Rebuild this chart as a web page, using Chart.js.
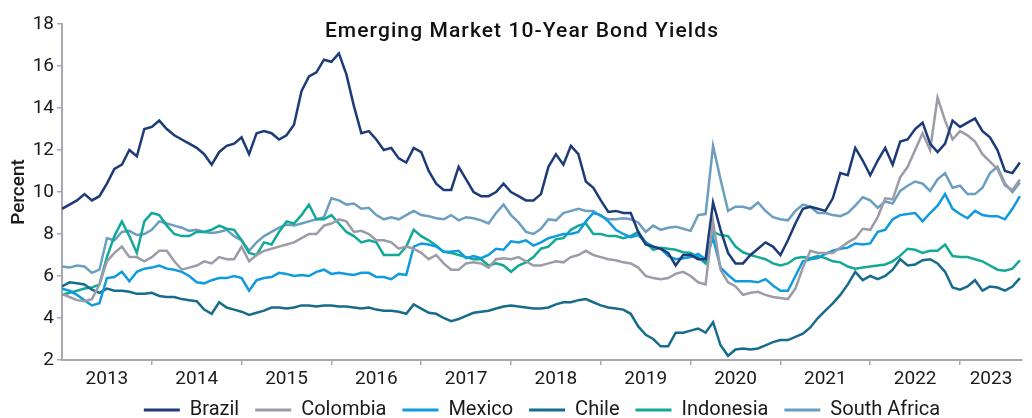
<!DOCTYPE html>
<html><head><meta charset="utf-8">
<script src="https://cdn.jsdelivr.net/npm/chart.js@4.4.0/dist/chart.umd.min.js"></script>
<style>html,body{margin:0;padding:0;background:#fff}#wrap{width:1032px;height:418px;position:relative}</style>
</head><body><div id="wrap"><canvas id="c" width="1032" height="418"></canvas></div>
<script>
const TITLE = 'Emerging Market 10-Year Bond Yields';
const Y_TITLE = 'Percent';
const seriesNames = ['Brazil','Colombia','Mexico','Chile','Indonesia','South Africa'];
const yearLabels = ['2013','2014','2015','2016','2017','2018','2019','2020','2021','2022','2023'];
const yTicks = [2,4,6,8,10,12,14,16,18];
// monthly observations, Jan 2013 .. Sep 2023
const months = [];
for (let y = 2013; y <= 2023; y++) for (let m = 1; m <= 12; m++) { if (y === 2023 && m > 9) break; months.push(y + '-' + String(m).padStart(2,'0')); }

const brazil = [9.2, 9.4, 9.6, 9.9, 9.6, 9.8, 10.4, 11.1, 11.3, 12.0, 11.7, 13.0,
13.1, 13.4, 13.0, 12.7, 12.5, 12.3, 12.1, 11.8, 11.3, 11.9, 12.2, 12.3,
12.6, 11.8, 12.8, 12.9, 12.8, 12.5, 12.7, 13.2, 14.8, 15.5, 15.7, 16.3,
16.2, 16.6, 15.6, 14.1, 12.8, 12.9, 12.5, 12.0, 12.1, 11.6, 11.4, 12.1,
11.9, 11.0, 10.4, 10.1, 10.1, 11.2, 10.6, 10.0, 9.8, 9.8, 10.0, 10.4,
10.0, 9.8, 9.6, 9.6, 9.9, 11.2, 11.8, 11.3, 12.2, 11.8, 10.5, 10.2,
9.6, 9.05, 9.1, 9.0, 9.0, 8.1, 7.5, 7.4, 7.3, 7.1, 6.5, 7.0,
7.0, 6.8, 6.8, 9.5, 8.2, 7.1, 6.6, 6.6, 7.0, 7.3, 7.6, 7.4,
7.0, 7.7, 8.5, 9.2, 9.3, 9.2, 9.1, 9.7, 10.9, 10.8, 12.1, 11.5,
10.8, 11.5, 12.1, 11.3, 12.4, 12.5, 13.0, 13.3, 12.3, 11.9, 12.3, 13.4,
13.1, 13.3, 13.5, 12.9, 12.6, 12.0, 11.0, 10.9, 11.4];
const colombia = [5.15, 5.0, 4.85, 4.8, 4.9, 5.6, 6.7, 7.1, 7.4, 6.9, 6.9, 6.7,
6.9, 7.2, 7.2, 6.7, 6.3, 6.4, 6.5, 6.7, 6.6, 6.9, 6.8, 6.8,
7.4, 6.7, 7.0, 7.2, 7.3, 7.4, 7.5, 7.6, 7.8, 8.0, 8.0, 8.4,
8.5, 8.7, 8.6, 8.1, 8.15, 8.0, 7.7, 7.7, 7.6, 7.3, 7.4, 7.3,
7.1, 6.8, 7.0, 6.6, 6.3, 6.3, 6.6, 6.65, 6.6, 6.4, 6.8, 6.85,
6.8, 6.9, 6.7, 6.5, 6.5, 6.6, 6.7, 6.65, 6.9, 7.0, 7.2, 7.0,
6.9, 6.8, 6.75, 6.65, 6.6, 6.4, 6.0, 5.9, 5.85, 5.9, 6.1, 6.2,
6.0, 5.7, 5.6, 8.6, 6.3, 5.7, 5.5, 5.1, 5.2, 5.25, 5.1, 5.0,
4.95, 4.9, 5.4, 6.4, 7.2, 7.1, 7.1, 7.1, 7.35, 7.6, 7.8, 8.25,
8.2, 8.8, 9.7, 9.65, 10.7, 11.2, 12.0, 12.8, 12.0, 14.5, 13.4, 12.5,
12.9, 12.7, 12.4, 11.8, 11.45, 11.1, 10.3, 10.1, 10.6];
const mexico = [5.4, 5.3, 5.1, 4.85, 4.6, 4.7, 5.9, 5.95, 6.2, 5.75, 6.2, 6.35,
6.4, 6.5, 6.35, 6.3, 6.2, 6.0, 5.7, 5.65, 5.8, 5.9, 5.9, 6.0,
5.9, 5.3, 5.8, 5.9, 5.95, 6.15, 6.1, 6.0, 6.05, 6.0, 6.2, 6.3,
6.1, 6.15, 6.1, 6.05, 6.15, 6.15, 5.95, 5.95, 5.85, 6.1, 6.05, 7.4,
7.55, 7.5, 7.4, 7.15, 7.15, 7.2, 6.85, 6.95, 6.85, 7.0, 7.3, 7.25,
7.65, 7.6, 7.7, 7.45, 7.6, 7.8, 7.9, 8.0, 8.0, 8.1, 8.6, 9.0,
8.9, 8.6, 8.2, 8.0, 7.85, 7.95, 7.6, 7.4, 7.3, 6.95, 6.8, 6.85,
6.9, 7.05, 6.8, 7.8, 6.4, 6.05, 5.75, 5.75, 5.75, 5.7, 5.85, 5.55,
5.3, 5.3, 6.0, 6.7, 6.8, 6.85, 7.05, 7.2, 7.3, 7.35, 7.55, 7.5,
7.55, 8.1, 8.2, 8.7, 8.9, 8.95, 9.0, 8.6, 9.0, 9.35, 9.9, 9.2,
8.95, 8.75, 9.1, 8.9, 8.85, 8.85, 8.7, 9.2, 9.8];
const chile = [5.5, 5.7, 5.65, 5.6, 5.35, 5.2, 5.4, 5.3, 5.3, 5.25, 5.15, 5.15,
5.2, 5.05, 5.0, 5.0, 4.9, 4.85, 4.8, 4.4, 4.2, 4.75, 4.5, 4.4,
4.3, 4.15, 4.25, 4.35, 4.5, 4.5, 4.45, 4.5, 4.6, 4.6, 4.55, 4.6,
4.6, 4.55, 4.55, 4.5, 4.45, 4.5, 4.4, 4.35, 4.35, 4.3, 4.2, 4.65,
4.45, 4.25, 4.2, 4.0, 3.85, 3.95, 4.1, 4.25, 4.3, 4.35, 4.45, 4.55,
4.6, 4.55, 4.5, 4.45, 4.45, 4.5, 4.65, 4.75, 4.75, 4.85, 4.9, 4.75,
4.6, 4.5, 4.45, 4.4, 4.2, 3.6, 3.2, 3.0, 2.65, 2.65, 3.3, 3.3,
3.4, 3.5, 3.3, 3.8, 2.7, 2.2, 2.5, 2.55, 2.5, 2.55, 2.7, 2.85,
2.95, 2.95, 3.1, 3.25, 3.55, 4.0, 4.35, 4.7, 5.1, 5.6, 6.2, 5.8,
6.0, 5.85, 6.0, 6.3, 6.8, 6.5, 6.55, 6.75, 6.8, 6.6, 6.2, 5.45,
5.35, 5.5, 5.8, 5.3, 5.5, 5.45, 5.3, 5.5, 5.9];
const indonesia = [5.1, 5.2, 5.3, 5.4, 5.45, 5.6, 6.9, 7.9, 8.6, 7.9, 7.1, 8.6,
9.0, 8.9, 8.4, 8.0, 7.9, 7.9, 8.1, 8.1, 8.2, 8.4, 8.25, 8.2,
7.7, 7.1, 7.0, 7.6, 7.5, 8.1, 8.6, 8.5, 8.9, 9.4, 8.7, 8.7,
8.9, 8.5, 8.1, 7.9, 7.6, 7.7, 7.6, 7.0, 7.0, 7.0, 7.4, 8.2,
7.9, 7.7, 7.45, 7.15, 7.1, 7.0, 6.9, 6.8, 6.8, 6.5, 6.6, 6.5,
6.2, 6.5, 6.65, 6.9, 7.3, 7.4, 7.75, 7.8, 8.2, 8.4, 8.5, 8.0,
8.0, 7.9, 7.9, 7.8, 7.9, 8.1, 7.6, 7.25, 7.35, 7.3, 7.25, 7.13,
7.1, 6.9, 6.6, 8.1, 7.95, 7.9, 7.4, 7.13, 7.0, 6.9, 6.8, 6.6,
6.5, 6.6, 6.85, 6.9, 6.85, 6.95, 6.85, 6.7, 6.65, 6.45, 6.35, 6.4,
6.45, 6.5, 6.55, 6.7, 6.97, 7.3, 7.25, 7.1, 7.2, 7.2, 7.5, 6.95,
6.9, 6.9, 6.8, 6.7, 6.5, 6.3, 6.25, 6.35, 6.75];
const southAfrica = [6.45, 6.4, 6.5, 6.45, 6.15, 6.3, 7.8, 7.7, 8.1, 8.15, 7.95, 8.0,
8.2, 8.6, 8.5, 8.4, 8.3, 8.15, 8.2, 8.1, 8.05, 8.1, 8.2, 7.9,
7.7, 7.2, 7.6, 7.9, 8.1, 8.3, 8.45, 8.4, 8.5, 8.6, 8.7, 8.8,
9.7, 9.6, 9.4, 9.45, 9.2, 9.25, 8.9, 8.7, 8.8, 8.7, 8.9, 9.1,
8.9, 8.85, 8.75, 8.7, 8.9, 8.65, 8.8, 8.75, 8.65, 8.5, 9.0, 9.4,
8.9, 8.55, 8.1, 8.0, 8.25, 8.7, 8.65, 9.0, 9.1, 9.2, 9.1, 9.1,
8.85, 8.7, 8.7, 8.75, 8.7, 8.55, 8.1, 8.4, 8.2, 8.3, 8.35, 8.25,
8.15, 8.9, 8.95, 12.2, 10.6, 9.1, 9.3, 9.3, 9.2, 9.5, 9.1, 8.8,
8.7, 8.65, 9.1, 9.4, 9.3, 9.0, 9.0, 8.9, 8.85, 9.0, 9.35, 9.75,
9.6, 9.25, 9.55, 9.45, 10.05, 10.3, 10.5, 10.4, 10.05, 10.6, 10.9, 10.2,
10.3, 9.9, 9.9, 10.2, 10.9, 11.2, 10.4, 10.0, 10.45];

const seriesValues = [brazil, colombia, mexico, chile, indonesia, southAfrica];
const seriesColors = ['#1d3b78','#9c9ca8','#0f9bde','#176c8c','#13a898','#6b9ebf'];
const X_MIN = 2013, X_MAX = 2023.69;
const AXIS = '#a8a8b0', TXT = '#1a1a1a';
const FONT = 'Roboto';

const monthToYear = s => { const [y, m] = s.split('-').map(Number); return y + (m - 1) / 12; };
const xs = months.map(monthToYear);

const datasets = seriesNames.map((name, i) => ({
  label: name,
  data: seriesValues[i].map((v, j) => ({ x: xs[j], y: v })),
  borderColor: seriesColors[i],
  backgroundColor: seriesColors[i],
  borderWidth: 2.5,
  pointRadius: 0,
  tension: 0,
  fill: false
}));

const titlePlugin = {
  id: 'overlayTitle',
  afterDraw(chart) {
    const ctx = chart.ctx;
    ctx.save();
    ctx.font = '500 21px ' + FONT;
    try { ctx.letterSpacing = '1.1px'; } catch (e) {}
    ctx.fillStyle = '#111';
    ctx.textAlign = 'center';
    ctx.textBaseline = 'middle';
    ctx.fillText(TITLE, 522, 32);
    ctx.restore();
  }
};

new Chart(document.getElementById('c'), {
  type: 'line',
  data: { datasets },
  plugins: [titlePlugin],
  options: {
    responsive: false,
    animation: false,
    events: [],
    layout: { padding: { top: 24, right: 10, left: 0, bottom: -12 } },
    plugins: {
      title: { display: false },
      tooltip: { enabled: false },
      legend: {
        position: 'bottom',
        fullSize: false,
        labels: {
          boxWidth: 36, boxHeight: 3, padding: 16, color: TXT,
          font: { family: FONT, size: 20 },
          generateLabels: (chart) => Chart.defaults.plugins.legend.labels.generateLabels(chart).map(l => Object.assign(l, { lineWidth: 0 }))
        }
      }
    },
    scales: {
      x: {
        type: 'linear', min: X_MIN, max: X_MAX,
        afterFit: s => { s.height = 24; },
        afterBuildTicks: s => {
          const t = [];
          yearLabels.forEach((lab, k) => {
            const y = Number(lab);
            if (k > 0) t.push({ value: y });
            t.push({ value: (y + Math.min(y + 1, X_MAX)) / 2 });
          });
          s.ticks = t;
        },
        ticks: {
          autoSkip: false, maxRotation: 0, padding: 3, color: TXT,
          font: { family: FONT, size: 19 },
          callback: v => Number.isInteger(v) ? '' : String(Math.floor(v))
        },
        grid: {
          drawOnChartArea: false, tickLength: 5, lineWidth: 1.5,
          tickColor: c => (c.tick && Number.isInteger(c.tick.value)) ? AXIS : 'rgba(0,0,0,0)'
        },
        border: { display: true, color: AXIS, width: 2 }
      },
      y: {
        min: 2, max: 18,
        afterFit: s => { s.width = 62; },
        afterBuildTicks: s => { s.ticks = yTicks.map(v => ({ value: v })); },
        ticks: { padding: 3, color: TXT, font: { family: FONT, size: 19 } },
        grid: { drawOnChartArea: false, tickLength: 5, color: AXIS, lineWidth: 1.5 },
        border: { display: true, color: AXIS, width: 2 },
        title: { display: true, text: Y_TITLE, color: TXT, font: { family: FONT, size: 19, weight: '500' }, padding: { top: 8, bottom: 0 } }
      }
    }
  }
});
</script>
</body></html>
